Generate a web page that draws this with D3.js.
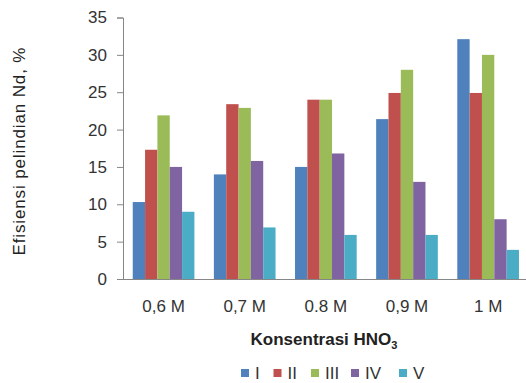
<!DOCTYPE html>
<html><head><meta charset="utf-8">
<script src="https://cdn.jsdelivr.net/npm/d3@7"></script>
<style>body{margin:0;background:#fff}svg{display:block}text{font-family:"Liberation Sans",Arial,sans-serif;fill:#333}</style>
</head><body><svg id="c" width="526" height="383"></svg>
<script>
const categories = ["0,6 M","0,7 M","0.8 M","0,9 M","1 M"];
const seriesNames = ["I","II","III","IV","V"];
const sI   = [10.3, 14.0, 15.0, 21.4, 32.1];
const sII  = [17.3, 23.4, 24.0, 24.9, 24.9];
const sIII = [21.9, 22.9, 24.0, 28.0, 30.0];
const sIV  = [15.0, 15.8, 16.8, 13.0, 8.0];
const sV   = [9.0, 6.9, 5.9, 5.9, 3.9];
const yTicks = [0,5,10,15,20,25,30,35];
const colors = ["#4F81BD","#C0504D","#9BBB59","#8064A2","#4BACC6"];
const series = [sI,sII,sIII,sIV,sV];

const svg = d3.select("#c");
const L=123, R=528.7, T=17.5, B=279;
const x = d3.scaleBand().domain(categories).range([L,R]).paddingInner(0.24).paddingOuter(0.12);
const xs = d3.scaleBand().domain(seriesNames).range([0,x.bandwidth()]);
const y = d3.scaleLinear().domain([0,35]).range([B,T]);

// bars
categories.forEach((c,i)=>{
  series.forEach((s,j)=>{
    svg.append("rect")
      .attr("x", x(c)+xs(seriesNames[j]))
      .attr("y", y(s[i]))
      .attr("width", xs.bandwidth())
      .attr("height", B - y(s[i]))
      .attr("fill", colors[j]);
  });
});

// y axis
const yAxis = d3.axisLeft(y).tickValues(yTicks).tickSize(6).tickPadding(10);
const gy = svg.append("g").attr("transform",`translate(${L},0)`).call(yAxis);
gy.select(".domain").attr("stroke","#868686");
gy.selectAll(".tick line").attr("stroke","#868686");
gy.selectAll(".tick text").style("font-size","17px").attr("fill","#333").style("font-family","'Liberation Sans',Arial,sans-serif");

// x axis baseline
svg.append("line").attr("x1",L).attr("x2",526).attr("y1",B+0.5).attr("y2",B+0.5).attr("stroke","#868686");
// x labels
categories.forEach(c=>{
  svg.append("text").attr("x",x(c)+x.bandwidth()/2).attr("y",312)
    .attr("text-anchor","middle").style("font-size","17px").text(c);
});

// x title
const xt = svg.append("text").attr("x",324).attr("y",345).attr("text-anchor","middle")
  .style("font-size","17px").style("font-weight","bold").style("fill","#222");
xt.append("tspan").text("Konsentrasi HNO");
xt.append("tspan").attr("dy",4).style("font-size","11px").text("3");

// y title
svg.append("text").attr("transform","translate(25,151.5) rotate(-90)")
  .attr("text-anchor","middle").style("font-size","17px").style("fill","#222")
  .attr("textLength",208).attr("lengthAdjust","spacing")
  .text("Efisiensi  pelindian Nd, %");

// legend
const legX = [241, 273.5, 311, 351, 399];
seriesNames.forEach((n,j)=>{
  const g = svg.append("g").attr("transform",`translate(${legX[j]},373)`);
  g.append("rect").attr("x",0).attr("y",-4).attr("width",8).attr("height",8).attr("fill",colors[j]);
  g.append("text").attr("x",14).attr("y",6).style("font-size","17px").text(n);
});
</script></body></html>
